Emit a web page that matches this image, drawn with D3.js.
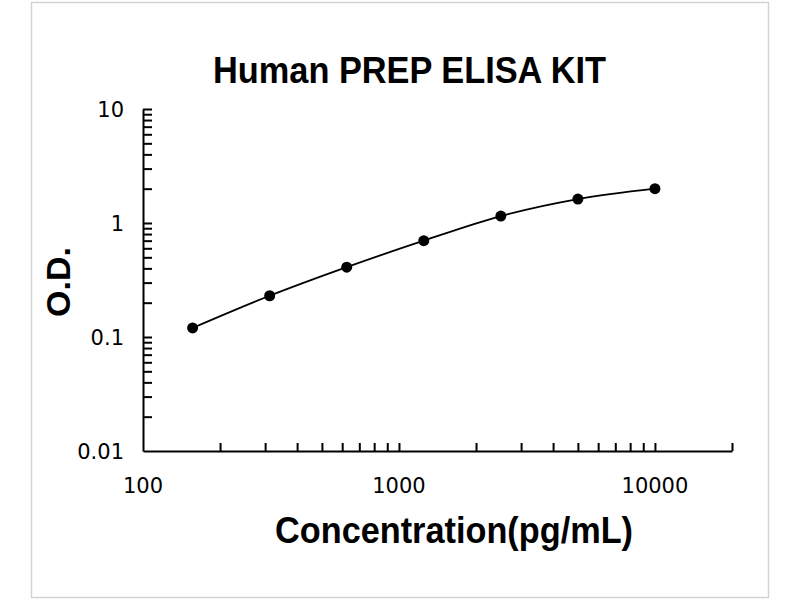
<!DOCTYPE html>
<html>
<head>
<meta charset="utf-8">
<script src="https://cdn.jsdelivr.net/npm/d3@7"></script>
<style>
    body { margin: 0; background: #fff; }
    svg { display: block; }
</style>
</head>
<body>
<svg id="chart" width="800" height="600"></svg>
<script>

// standard curve points
var concentrations = [156.25, 312.5, 625, 1250, 2500, 5000, 10000];
var odValues = [0.12, 0.23, 0.41, 0.70, 1.15, 1.62, 2.0];

var xTickLabels = [100, 1000, 10000];
var yTickLabels = [0.01, 0.1, 1, 10];
var xTicks = [200, 300, 400, 500, 600, 700, 800, 900, 1000,
              2000, 3000, 4000, 5000, 6000, 7000, 8000, 9000, 10000, 20000];
var yTicks = [0.02, 0.03, 0.04, 0.05, 0.06, 0.07, 0.08, 0.09, 0.1,
              0.2, 0.3, 0.4, 0.5, 0.6, 0.7, 0.8, 0.9, 1,
              2, 3, 4, 5, 6, 7, 8, 9, 10];

var title = "Human PREP ELISA KIT";
var xTitle = "Concentration(pg/mL)";
var yTitle = "O.D.";

function drawChart() {
    var svg = d3.select("#chart");

    // light frame round the picture
    svg.append("rect")
        .attr("x", 31.5).attr("y", 2.5)
        .attr("width", 737).attr("height", 595)
        .attr("fill", "#fff")
        .attr("stroke", "#d4d4d4")
        .attr("stroke-width", 1.5);

    var x = d3.scaleLog()
        .domain([100, 20000])
        .range([143, 732]);

    var y = d3.scaleLog()
        .domain([0.01, 10])
        .range([451, 109]);

    var g = svg.append("g");

    // x axis, ticks point up into the plot
    var xAxis = d3.axisBottom(x)
        .tickValues(xTicks)
        .tickSizeInner(-8)
        .tickSizeOuter(0)
        .tickFormat("");

    g.append("g")
        .attr("transform", "translate(0,451)")
        .call(xAxis)
        .call(function(a) {
            a.select(".domain").attr("stroke", "#000").attr("stroke-width", 2);
            a.selectAll(".tick line").attr("stroke", "#000").attr("stroke-width", 2);
        });

    // y axis, ticks point right
    var yAxis = d3.axisLeft(y)
        .tickValues(yTicks)
        .tickSizeInner(-9)
        .tickSizeOuter(0)
        .tickFormat("");

    g.append("g")
        .attr("transform", "translate(143,0)")
        .call(yAxis)
        .call(function(a) {
            a.select(".domain").attr("stroke", "#000").attr("stroke-width", 2);
            a.selectAll(".tick line").attr("stroke", "#000").attr("stroke-width", 2);
        });

    g.selectAll(".xlab")
        .data(xTickLabels)
        .enter().append("text")
        .attr("class", "xlab")
        .attr("x", function(d) { return x(d); })
        .attr("y", 493)
        .attr("text-anchor", "middle")
        .style("font-family", "DejaVu Sans, sans-serif")
        .style("font-size", "21px")
        .text(function(d) { return d; });

    g.selectAll(".ylab")
        .data(yTickLabels)
        .enter().append("text")
        .attr("class", "ylab")
        .attr("x", 124)
        .attr("y", function(d) { return y(d) + 8; })
        .attr("text-anchor", "end")
        .style("font-family", "DejaVu Sans, sans-serif")
        .style("font-size", "21px")
        .text(function(d) { return d; });

    // curve and points
    var line = d3.line()
        .x(function(d, i) { return x(concentrations[i]); })
        .y(function(d) { return y(d); })
        .curve(d3.curveMonotoneX);

    g.append("path")
        .datum(odValues)
        .attr("d", line)
        .attr("fill", "none")
        .attr("stroke", "#000")
        .attr("stroke-width", 1.8);

    g.selectAll(".dot")
        .data(odValues)
        .enter().append("circle")
        .attr("class", "dot")
        .attr("cx", function(d, i) { return x(concentrations[i]); })
        .attr("cy", function(d) { return y(d); })
        .attr("r", 5.5)
        .attr("fill", "#000");

    // titles
    svg.append("text")
        .attr("x", 213)
        .attr("y", 83)
        .attr("textLength", 393)
        .attr("lengthAdjust", "spacingAndGlyphs")
        .style("font-family", "Liberation Sans, Arial, sans-serif")
        .style("font-weight", "bold")
        .style("font-size", "36px")
        .text(title);

    svg.append("text")
        .attr("x", 275)
        .attr("y", 543)
        .attr("textLength", 358)
        .attr("lengthAdjust", "spacingAndGlyphs")
        .style("font-family", "Liberation Sans, Arial, sans-serif")
        .style("font-weight", "bold")
        .style("font-size", "36px")
        .text(xTitle);

    svg.append("text")
        .attr("transform", "translate(70,282) rotate(-90)")
        .attr("text-anchor", "middle")
        .style("font-family", "Liberation Sans, Arial, sans-serif")
        .style("font-weight", "bold")
        .style("font-size", "34px")
        .text(yTitle);
}

drawChart();
</script>
</body>
</html>
